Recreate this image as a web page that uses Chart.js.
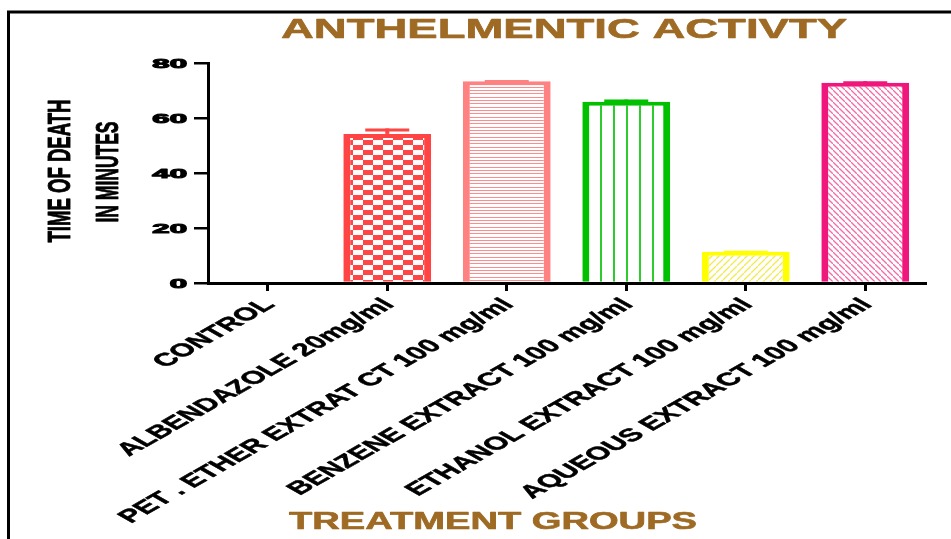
<!DOCTYPE html>
<html>
<head>
<meta charset="utf-8">
<script src="https://cdn.jsdelivr.net/npm/chart.js@4.4.1/dist/chart.umd.min.js"></script>
<style>
  html, body { margin: 0; padding: 0; background: #fff; }
  canvas { display: block; }
</style>
</head>
<body>
<canvas id="chart" width="951" height="539"></canvas>
<script>
// Treatment groups and mean time of death (minutes) with error (SEM)
const groups = [
  'CONTROL',
  'ALBENDAZOLE 20mg/ml',
  'PET . ETHER EXTRAT CT 100 mg/ml',
  'BENZENE EXTRACT 100 mg/ml',
  'ETHANOL EXTRACT 100 mg/ml',
  'AQUEOUS EXTRACT 100 mg/ml'
];
const deathTime = [0, 54.2, 73.4, 65.9, 11.4, 72.8];
const deathErr  = [0, 2.0, 0.4, 0.8, 0.3, 0.6];
const yTicks    = [0, 20, 40, 60, 80];

const chartTitle = 'ANTHELMENTIC ACTIVTY';
const xTitle = 'TREATMENT GROUPS';
const yTitle = ['TIME OF DEATH', 'IN MINUTES'];

const FONT = '"Liberation Sans", Arial, sans-serif';
const BROWN = '#9e6a24';

// ---- fill patterns for the bars ----
function tile(w, h, draw) {
  const c = document.createElement('canvas');
  c.width = w; c.height = h;
  const g = c.getContext('2d');
  g.fillStyle = '#ffffff';
  g.fillRect(0, 0, w, h);
  draw(g, w, h);
  return c.getContext('2d').createPattern(c, 'repeat');
}
const patterns = [
  '#ffffff',
  // checkerboard
  tile(20, 10, (g) => {
    g.fillStyle = '#ff4646';
    g.fillRect(0, 0, 10, 5);
    g.fillRect(10, 5, 10, 5);
  }),
  // horizontal stripes
  tile(4, 10, (g) => {
    g.fillStyle = '#ff8c8c';
    g.fillRect(0, 0, 4, 1);
    g.fillRect(0, 3, 4, 1);
    g.fillRect(0, 7, 4, 1);
  }),
  // vertical stripes
  tile(13, 4, (g) => {
    g.fillStyle = '#2ccc2c';
    g.fillRect(5, 0, 2, 4);
  }),
  // forward hatch
  tile(7, 7, (g) => {
    g.strokeStyle = '#f2ea50';
    g.lineWidth = 1.3;
    g.beginPath();
    g.moveTo(-1, 8); g.lineTo(8, -1);
    g.stroke();
  }),
  // back hatch
  tile(6, 6, (g) => {
    g.strokeStyle = '#f26aa6';
    g.lineWidth = 1.3;
    g.beginPath();
    g.moveTo(-1, -1); g.lineTo(7, 7);
    g.stroke();
  })
];
const borders = ['#000000', '#ff4444', '#ff8282', '#00c000', '#ffff00', '#f0177c'];

// keep each pattern anchored to the left edge of its own bar
const patternAnchor = {
  id: 'patternAnchor',
  beforeDatasetsDraw(chart) {
    chart.getDatasetMeta(0).data.forEach((bar, i) => {
      const p = patterns[i];
      if (p && typeof p === 'object' && p.setTransform) {
        p.setTransform(new DOMMatrix([1, 0, 0, 1, Math.round(bar.x - bar.width / 2), 0]));
      }
    });
  }
};

// error bars drawn above each bar
const errorBars = {
  id: 'errorBars',
  afterDatasetsDraw(chart) {
    const ctx = chart.ctx;
    const y = chart.scales.y;
    chart.getDatasetMeta(0).data.forEach((bar, i) => {
      if (!deathErr[i]) return;
      const top = y.getPixelForValue(deathTime[i] + deathErr[i]);
      ctx.save();
      ctx.strokeStyle = borders[i];
      ctx.lineWidth = 4;
      ctx.beginPath();
      ctx.moveTo(bar.x, bar.y);
      ctx.lineTo(bar.x, top);
      ctx.stroke();
      ctx.lineWidth = 3;
      ctx.beginPath();
      ctx.moveTo(bar.x - 22, top + 1.5);
      ctx.lineTo(bar.x + 22, top + 1.5);
      ctx.stroke();
      ctx.restore();
    });
  }
};

// background, frame and all text
const decorations = {
  id: 'decorations',
  beforeDraw(chart) {
    const ctx = chart.ctx;
    ctx.save();
    ctx.fillStyle = '#ffffff';
    ctx.fillRect(0, 0, chart.width, chart.height);
    ctx.strokeStyle = '#000000';
    ctx.lineWidth = 3;
    ctx.beginPath();
    ctx.moveTo(8.5, chart.height);
    ctx.lineTo(8.5, 12);
    ctx.lineTo(chart.width, 12);
    ctx.stroke();
    ctx.restore();
  },
  afterDraw(chart) {
    const ctx = chart.ctx;
    const xs = chart.scales.x;
    const ys = chart.scales.y;

    // solid text with a thin outline of the same colour for a heavier weight
    function heavyText(text, x, y, color, weight) {
      ctx.fillStyle = color;
      ctx.fillText(text, x, y);
      if (weight) {
        ctx.strokeStyle = color;
        ctx.lineWidth = weight;
        ctx.lineJoin = 'round';
        ctx.strokeText(text, x, y);
      }
    }

    // text squeezed or widened to a given width
    function fitText(text, font, color, x, y, width, weight) {
      ctx.save();
      ctx.font = font;
      ctx.textBaseline = 'alphabetic';
      ctx.textAlign = 'left';
      const w = ctx.measureText(text).width;
      ctx.translate(x, y);
      ctx.scale(width / w, 1);
      heavyText(text, 0, 0, color, weight);
      ctx.restore();
    }

    // chart title
    fitText(chartTitle, 'bold 27px ' + FONT, BROWN, 281, 38, 566, 0.6);
    // x axis title
    fitText(xTitle, 'bold 23px ' + FONT, BROWN, 289, 529, 408, 0.6);

    // y axis title: two vertical lines of condensed text
    const yLines = [
      { text: yTitle[0], cx: 60, cy: 171, len: 143, thick: 23 },
      { text: yTitle[1], cx: 108, cy: 172, len: 101, thick: 23 }
    ];
    yLines.forEach((l) => {
      ctx.save();
      ctx.font = 'bold 17px ' + FONT;
      ctx.textAlign = 'center';
      ctx.textBaseline = 'middle';
      const w = ctx.measureText(l.text).width;
      ctx.translate(l.cx, l.cy);
      ctx.rotate(-Math.PI / 2);
      ctx.scale(l.len / w, l.thick / 12.5);
      heavyText(l.text, 0, 1, '#000', 0.5);
      ctx.restore();
    });

    // y tick labels
    yTicks.forEach((v) => {
      ctx.save();
      ctx.font = 'bold 13px ' + FONT;
      ctx.textAlign = 'right';
      ctx.textBaseline = 'middle';
      ctx.translate(187, ys.getPixelForValue(v) + 1);
      ctx.scale(2.4, 1);
      heavyText(String(v), 0, 0, '#000', 1);
      ctx.restore();
    });

    // x tick labels, slanted
    groups.forEach((g, i) => {
      ctx.save();
      ctx.font = 'bold 18px ' + FONT;
      ctx.textAlign = 'right';
      ctx.textBaseline = 'middle';
      ctx.translate(xs.getPixelForValue(i) + 2, xs.top + 19);
      ctx.scale(1.76, 1);
      ctx.rotate(-Math.PI / 4);
      heavyText(g, 0, 0, '#000', 0.5);
      ctx.restore();
    });
  }
};

new Chart(document.getElementById('chart'), {
  type: 'bar',
  data: {
    labels: groups,
    datasets: [{
      data: deathTime,
      backgroundColor: patterns,
      borderColor: borders,
      borderWidth: { top: 4, left: 7, right: 7, bottom: 0 },
      borderSkipped: 'start',
      categoryPercentage: 1,
      barPercentage: 0.735
    }]
  },
  options: {
    responsive: false,
    animation: false,
    devicePixelRatio: 1,
    layout: { padding: { left: 0, top: 63, right: 26, bottom: 0 } },
    plugins: {
      legend: { display: false },
      tooltip: { enabled: false },
      title: { display: false }
    },
    scales: {
      x: {
        offset: true,
        ticks: { display: false },
        grid: {
          offset: false,
          drawOnChartArea: false,
          drawTicks: true,
          tickLength: 8,
          color: '#000',
          lineWidth: 3
        },
        border: { display: true, color: '#000', width: 3 },
        afterFit(scale) { scale.height = 256; }
      },
      y: {
        min: 0,
        max: 80,
        afterBuildTicks(scale) { scale.ticks = yTicks.map((v) => ({ value: v })); },
        ticks: { display: false },
        grid: {
          drawOnChartArea: false,
          drawTicks: true,
          tickLength: 14,
          color: '#000',
          lineWidth: 2.5
        },
        border: { display: true, color: '#000', width: 3 },
        afterFit(scale) { scale.width = 208; }
      }
    }
  },
  plugins: [patternAnchor, errorBars, decorations]
});
</script>
</body>
</html>
